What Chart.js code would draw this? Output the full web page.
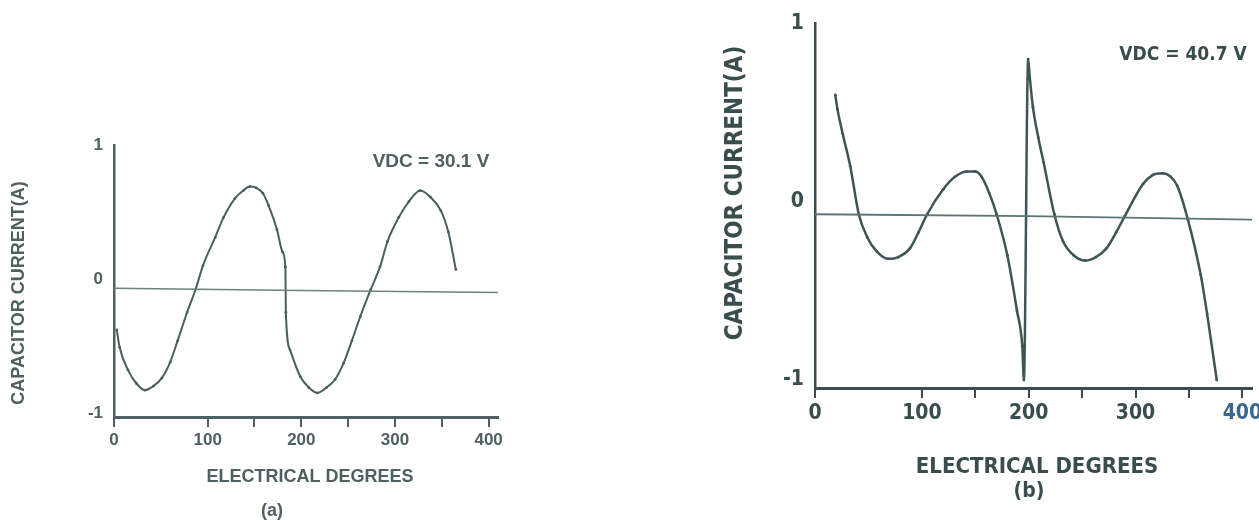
<!DOCTYPE html>
<html>
<head>
<meta charset="utf-8">
<title>Capacitor current</title>
<script src="https://cdn.jsdelivr.net/npm/chart.js@4.4.1/dist/chart.umd.min.js"></script>
<style>
  html, body { margin: 0; padding: 0; background: #fff; overflow: hidden; }
  #wrap { position: relative; width: 1259px; height: 520px; }
  canvas { position: absolute; top: 0; }
  #chartA { left: 0; }
  #chartB { left: 640px; }
</style>
</head>
<body>
<div id="wrap">
  <canvas id="chartA" width="640" height="520"></canvas>
  <canvas id="chartB" width="619" height="520"></canvas>
</div>
<script>
// (a) VDC = 30.1 V
const degreesA = [3, 6, 15, 24, 33, 42, 51, 60, 68, 78, 87, 95, 108, 117, 129, 138, 145, 152, 159, 165,
  174, 180, 183, 183.5, 188, 199, 208, 217, 227, 236, 245, 254, 263, 274, 284, 292, 304, 315, 327, 338,
  349, 357, 365];
const currentA = [-0.38, -0.51, -0.68, -0.78, -0.83, -0.8, -0.74, -0.62, -0.46, -0.25, -0.08, 0.10, 0.31,
  0.46, 0.6, 0.66, 0.69, 0.68, 0.64, 0.55, 0.37, 0.2, 0.09, -0.25, -0.53, -0.73, -0.81, -0.85, -0.81,
  -0.75, -0.63, -0.46, -0.28, -0.08, 0.09, 0.28, 0.46, 0.58, 0.66, 0.61, 0.51, 0.35, 0.07];
const baseDegA = [0, 200, 410];
const baseA = [-0.07, -0.085, -0.1];

// (b) VDC = 40.7 V
const degreesB = [19, 21, 26, 33, 41, 49, 58, 68, 78, 89, 97, 105, 120, 131, 142, 150, 156, 163, 170, 180,
  189, 194, 195.5, 199.5, 201, 204, 209, 214, 224, 232, 242, 253, 263, 273, 282, 290, 307, 316, 325, 333,
  339, 349, 361, 367, 376];
const currentB = [0.6, 0.52, 0.38, 0.2, -0.07, -0.2, -0.28, -0.32, -0.31, -0.26, -0.17, -0.07, 0.07, 0.14,
  0.17, 0.17, 0.14, 0.05, -0.07, -0.3, -0.61, -0.81, -1.0, 0.8, 0.7, 0.53, 0.36, 0.22, -0.07, -0.22, -0.3,
  -0.33, -0.31, -0.26, -0.17, -0.08, 0.1, 0.15, 0.16, 0.14, 0.09, -0.1, -0.41, -0.63, -1.0];
const baseDegB = [0, 200, 409];
const baseB = [-0.07, -0.08, -0.1];

const xTickValues = [0, 100, 150, 200, 250, 300, 350, 400];
const xTickLabels = [0, 100, 200, 300, 400];
const yTickValues = [-1, 0, 1];

const fontA = "'Liberation Sans', Arial, sans-serif";
const fontB = "'DejaVu Sans Condensed', 'DejaVu Sans', sans-serif";

function points(xs, ys) {
    return xs.map((x, i) => ({ x: x, y: ys[i] }));
}

// free text of the figure (axis titles, VDC note, panel letter)
function textPlugin(items) {
    return {
        id: 'figText',
        afterDraw(chart) {
            const ctx = chart.ctx;
            items.forEach(t => {
                ctx.save();
                ctx.font = t.font;
                ctx.fillStyle = t.color;
                ctx.textAlign = 'center';
                ctx.textBaseline = 'middle';
                ctx.translate(t.x, t.y);
                if (t.rotate) ctx.rotate(t.rotate);
                ctx.fillText(t.text, 0, 0);
                ctx.restore();
            });
        }
    };
}

function makeChart(id, cfg) {
    return new Chart(document.getElementById(id), {
        type: 'line',
        data: {
            datasets: [{
                data: points(cfg.baseX, cfg.baseY),
                borderColor: cfg.baseColor,
                borderWidth: cfg.baseWidth,
                pointRadius: 0
            }, {
                data: points(cfg.curveX, cfg.curveY),
                borderColor: cfg.curveColor,
                borderWidth: cfg.curveWidth,
                pointRadius: 1.4,
                pointBorderWidth: 0,
                pointBackgroundColor: cfg.curveColor,
                cubicInterpolationMode: 'monotone'
            }]
        },
        options: {
            responsive: false,
            animation: false,
            layout: { padding: cfg.padding },
            plugins: {
                legend: { display: false },
                tooltip: { enabled: false }
            },
            scales: {
                x: {
                    type: 'linear',
                    min: 0,
                    max: cfg.xMax,
                    afterBuildTicks: ax => { ax.ticks = xTickValues.map(v => ({ value: v })); },
                    afterFit: ax => { ax.height = cfg.xHeight; ax.paddingLeft = 0; ax.paddingRight = 0; },
                    grid: { drawOnChartArea: false, drawTicks: true, tickLength: 10, color: cfg.ink, lineWidth: 2 },
                    border: { color: cfg.ink, width: 3 },
                    ticks: {
                        autoSkip: false,
                        maxRotation: 0,
                        padding: cfg.xPad,
                        font: cfg.tickFont,
                        color: c => (c.tick && c.tick.value === 400 && cfg.lastTickColor) ? cfg.lastTickColor : cfg.ink,
                        callback: v => xTickLabels.includes(v) ? String(v) : ''
                    }
                },
                y: {
                    type: 'linear',
                    min: cfg.yMin,
                    max: 1,
                    afterBuildTicks: ax => { ax.ticks = yTickValues.map(v => ({ value: v })); },
                    afterFit: ax => { ax.width = cfg.yWidth; },
                    grid: { drawOnChartArea: false, drawTicks: false },
                    border: { color: cfg.ink, width: 2.5 },
                    ticks: { padding: 11, font: cfg.tickFont, color: cfg.ink }
                }
            }
        },
        plugins: [textPlugin(cfg.texts)]
    });
}

const inkA = '#4e6061';
makeChart('chartA', {
    curveX: degreesA, curveY: currentA, baseX: baseDegA, baseY: baseA,
    curveColor: '#4a5f5f', curveWidth: 2, baseColor: '#6f8181', baseWidth: 1.5,
    ink: inkA, xMax: 410, yMin: -1.03, yWidth: 40, xHeight: 40, xPad: 3,
    padding: { left: 74, right: 142, top: 145, bottom: 63 },
    tickFont: { family: fontA, size: 17, weight: 'bold' },
    texts: [
        { text: 'CAPACITOR CURRENT(A)', x: 19, y: 293, rotate: -Math.PI / 2, font: 'bold 18px ' + fontA, color: inkA },
        { text: 'ELECTRICAL DEGREES', x: 310, y: 477, font: 'bold 18px ' + fontA, color: inkA },
        { text: '(a)', x: 272, y: 511, font: 'bold 18px ' + fontA, color: inkA },
        { text: 'VDC = 30.1 V', x: 431, y: 162, font: 'bold 19px ' + fontA, color: inkA }
    ]
});

const inkB = '#3a4d4e';
makeChart('chartB', {
    curveX: degreesB, curveY: currentB, baseX: baseDegB, baseY: baseB,
    curveColor: '#3f5555', curveWidth: 2.5, baseColor: '#5f7474', baseWidth: 1.8,
    ink: inkB, xMax: 409, yMin: -1.045, yWidth: 45, xHeight: 50, xPad: 3,
    lastTickColor: '#3b6890',
    padding: { left: 130, right: 7, top: 20, bottom: 82 },
    tickFont: { family: fontB, size: 21, weight: 'bold' },
    texts: [
        { text: 'CAPACITOR CURRENT(A)', x: 96, y: 193, rotate: -Math.PI / 2, font: 'bold 24px ' + fontB, color: inkB },
        { text: 'ELECTRICAL DEGREES', x: 397, y: 467, font: 'bold 22px ' + fontB, color: inkB },
        { text: '(b)', x: 389, y: 492, font: 'bold 21px ' + fontB, color: inkB },
        { text: 'VDC = 40.7 V', x: 543, y: 55, font: 'bold 19px ' + fontB, color: inkB }
    ]
});
</script>
</body>
</html>
